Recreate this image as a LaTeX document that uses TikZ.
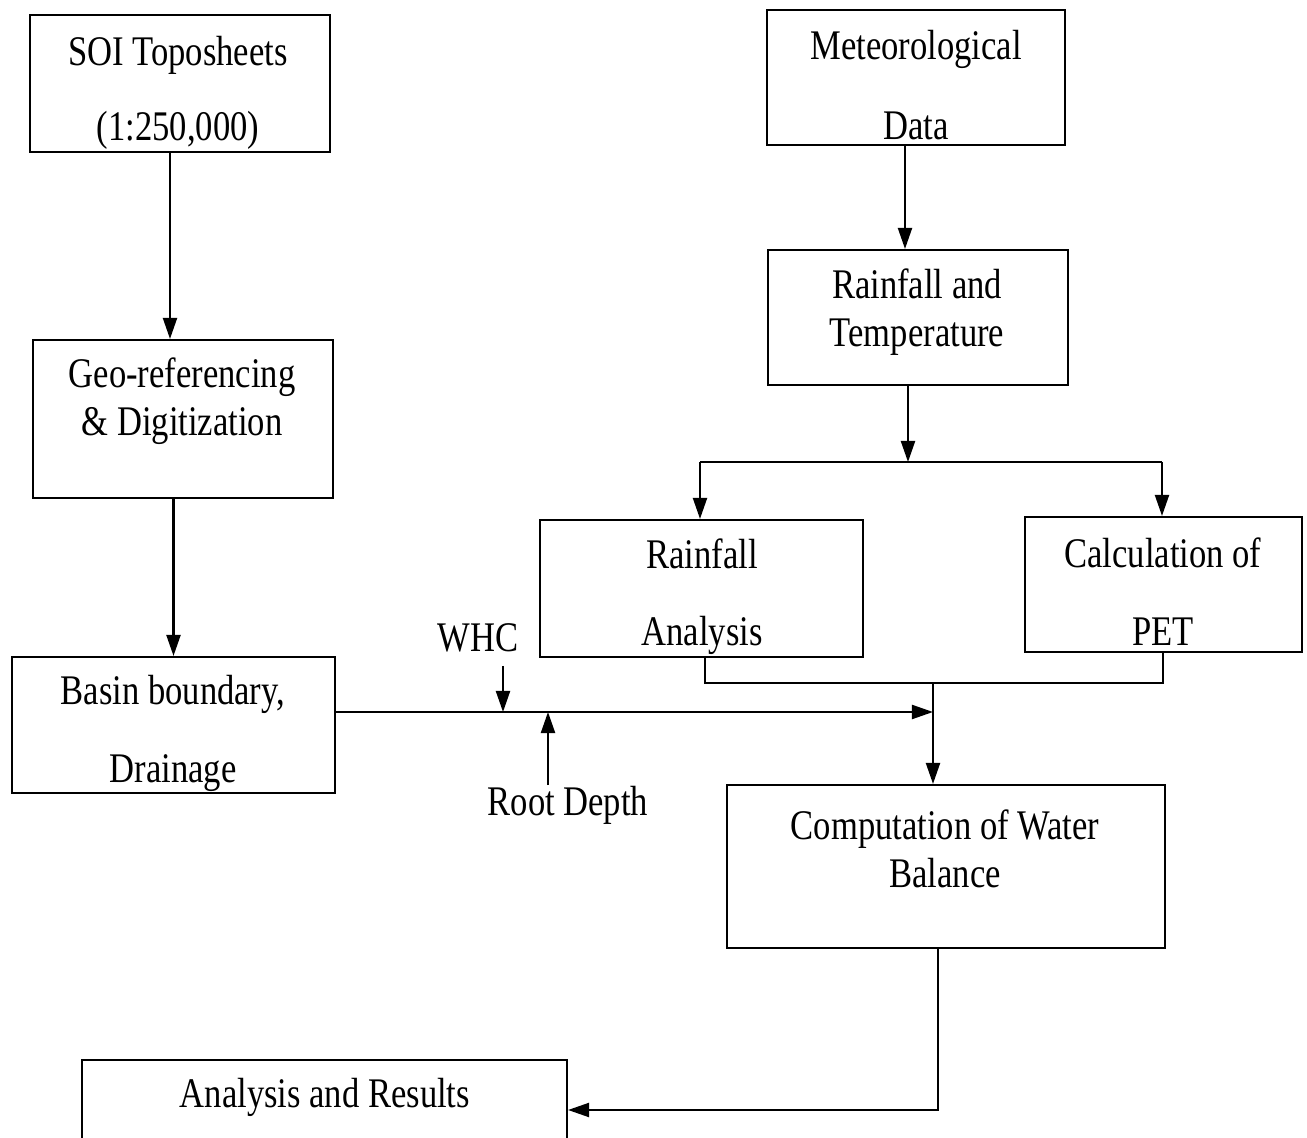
\documentclass[tikz,border=0pt]{standalone}
\usepackage{fontspec}
\setmainfont{Liberation Serif}[FakeStretch=0.82]
\usetikzlibrary{arrows.meta}

\begin{document}
\begin{tikzpicture}[box/.style={draw, line width=0.6pt, inner sep=0pt},
  txt/.style={align=center, font=\fontsize{12}{13.7}\selectfont, inner sep=0pt},
  ln/.style={line width=0.6pt},
  arr/.style={line width=0.6pt, -{Triangle[length=6pt,width=4pt]}}]
\useasboundingbox (0,0) rectangle (13.07,-11.38);
\clip (0,0) rectangle (13.07,-11.38);
\node[box, minimum width=3cm, minimum height=1.37cm] (soi) at (1.80,-0.835) {};
\node[txt] (soiT) at (1.78,-0.925) {SOI Toposheets\\[7.7pt](1:250,000)};
\node[box, minimum width=2.98cm, minimum height=1.35cm] (met) at (9.16,-0.775) {};
\node[txt] (metT) at (9.16,-0.85) {Meteorological\\[9pt]Data};
\node[box, minimum width=3cm, minimum height=1.35cm] (rt) at (9.18,-3.175) {};
\node[txt] (rtT) at (9.17,-3.125) {Rainfall and\\Temperature};
\node[box, minimum width=3cm, minimum height=1.58cm] (geo) at (1.83,-4.19) {};
\node[txt] (geoT) at (1.82,-4.01) {Geo-referencing\\\& Digitization};
\node[box, minimum width=3.23cm, minimum height=1.37cm] (ra) at (7.015,-5.885) {};
\node[txt] (raT) at (7.02,-5.965) {Rainfall\\[8.3pt]Analysis};
\node[box, minimum width=2.77cm, minimum height=1.35cm] (pet) at (11.635,-5.845) {};
\node[txt] (petT) at (11.63,-5.915) {Calculation of\\[8.3pt]PET};
\node[box, minimum width=3.23cm, minimum height=1.36cm] (basin) at (1.735,-7.25) {};
\node[txt] (basinT) at (1.73,-7.335) {Basin boundary,\\[8.3pt]Drainage};
\node[box, minimum width=4.38cm, minimum height=1.63cm] (comp) at (9.46,-8.665) {};
\node[txt] (compT) at (9.45,-8.485) {Computation of Water\\Balance};
\node[box, minimum width=4.85cm, minimum height=1cm] (res) at (3.245,-11.10) {};
\node[txt] (resT) at (3.25,-10.97) {Analysis and Results};
\node[txt] (whc) at (4.78,-6.38) {WHC};
\node[txt] (root) at (5.68,-8.05) {Root Depth};
% junction points
\coordinate (split) at (9.08,-4.62);
\coordinate (splitL) at (7.00,-4.62);
\coordinate (splitR) at (11.62,-4.62);
\coordinate (joinL) at (7.05,-6.83);
\coordinate (joinR) at (11.63,-6.83);
\coordinate (join) at (9.33,-6.83);
\coordinate (merge) at (9.33,-7.12);
\coordinate (whcEnd) at (5.03,-7.12);
\coordinate (rootEnd) at (5.48,-7.12);
\coordinate (bend) at (9.38,-11.10);
\draw[arr] ([xshift=-1mm]soi.south) -- ([xshift=-1mm]soi.south |- geo.north);
\draw[arr] (basin.north |- geo.south) -- (basin.north);
\draw[arr] ([xshift=-1.1mm]met.south) -- ([xshift=-1.1mm]met.south |- rt.north);
\draw[arr] (rt.south -| split) -- (split);
\draw[ln] (splitL) -- (splitR);
\draw[arr] (splitL) -- (splitL |- ra.north);
\draw[arr] (splitR) -- (splitR |- pet.north);
\draw[ln] (joinL |- ra.south) -- (joinL) -- (joinR) -- (joinR |- pet.south);
\draw[arr] (join) -- (join |- comp.north);
\draw[arr] (basin.east |- merge) -- (merge);
\draw[arr] ([yshift=-1.3mm]whc.south -| whcEnd) -- (whcEnd);
\draw[arr] (root.north -| rootEnd) -- (rootEnd);
\draw[arr] (bend |- comp.south) -- (bend) -- (bend -| res.east);
\end{tikzpicture}
\end{document}
